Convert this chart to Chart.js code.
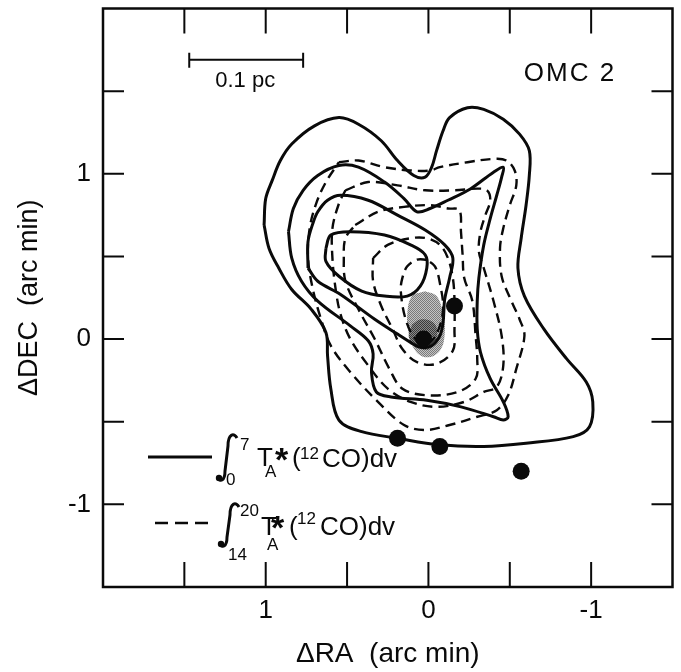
<!DOCTYPE html>
<html>
<head>
<meta charset="utf-8">
<title>OMC 2 - 12CO integrated intensity</title>
<script src="https://cdn.jsdelivr.net/npm/chart.js@4.4.1/dist/chart.umd.min.js"></script>
<style>
  html, body { margin: 0; padding: 0; background: #fff; }
  #wrap { width: 681px; height: 672px; }
</style>
</head>
<body>
<div id="wrap"><canvas id="omcChart" width="681" height="672"></canvas></div>
<script>
// Offsets in arc min: [dRA, dDEC]

// Integrated 12CO, 0-7 km/s (solid contours, outer to inner)
const lowVel1 = [[1.01,0.69],[1.00,0.85],[0.96,0.96],[0.91,1.08],[0.84,1.18],[0.70,1.29],[0.55,1.34],[0.43,1.30],[0.29,1.20],[0.19,1.08],[0.09,0.99],[0.02,0.98],[-0.02,1.04],[-0.05,1.14],[-0.09,1.26],[-0.13,1.34],[-0.24,1.40],[-0.34,1.39],[-0.46,1.33],[-0.56,1.24],[-0.62,1.14],[-0.62,0.99],[-0.60,0.81],[-0.57,0.61],[-0.55,0.43],[-0.59,0.26],[-0.71,0.06],[-0.85,-0.12],[-0.97,-0.26],[-1.01,-0.38],[-0.99,-0.53],[-0.89,-0.59],[-0.60,-0.63],[-0.34,-0.65],[-0.07,-0.64],[0.19,-0.60],[0.41,-0.56],[0.55,-0.49],[0.60,-0.30],[0.62,-0.10],[0.63,0.04],[0.72,0.18],[0.84,0.30],[0.92,0.43],[0.98,0.55],[1.01,0.69]];
const lowVel2 = [[0.86,0.65],[0.83,0.79],[0.77,0.90],[0.68,0.99],[0.55,1.05],[0.43,1.04],[0.27,0.95],[0.15,0.85],[0.07,0.77],[-0.01,0.79],[-0.12,0.84],[-0.26,0.91],[-0.40,1.01],[-0.46,1.04],[-0.45,0.98],[-0.42,0.87],[-0.38,0.73],[-0.34,0.57],[-0.31,0.37],[-0.30,0.23],[-0.30,0.06],[-0.32,-0.08],[-0.38,-0.24],[-0.46,-0.38],[-0.49,-0.47],[-0.46,-0.49],[-0.40,-0.47],[-0.20,-0.41],[0.01,-0.37],[0.23,-0.35],[0.32,-0.32],[0.35,-0.20],[0.34,-0.09],[0.37,-0.01],[0.48,0.08],[0.68,0.23],[0.78,0.35],[0.84,0.49],[0.86,0.65]];
const lowVel3 = [[0.74,0.43],[0.74,0.59],[0.71,0.70],[0.68,0.77],[0.62,0.84],[0.54,0.87],[0.37,0.84],[0.19,0.75],[0.02,0.66],[-0.10,0.57],[-0.15,0.49],[-0.13,0.37],[-0.10,0.24],[-0.09,0.10],[-0.07,0.02],[-0.02,-0.04],[0.05,-0.05],[0.11,-0.02],[0.19,0.03],[0.33,0.12],[0.54,0.27],[0.68,0.35],[0.74,0.43]];
const lowVel4 = [[0.63,0.55],[0.60,0.63],[0.48,0.65],[0.27,0.63],[0.11,0.57],[0.02,0.51],[0.01,0.43],[0.05,0.32],[0.13,0.26],[0.27,0.26],[0.41,0.29],[0.55,0.38],[0.63,0.47],[0.63,0.55]];

// Integrated 12CO, 14-20 km/s (dashed contours, outer to inner)
const highVel1 = [[0.55,1.07],[0.43,1.08],[0.27,1.04],[0.11,1.02],[-0.01,1.02],[-0.07,1.04],[-0.24,1.07],[-0.40,1.09],[-0.48,1.08],[-0.53,1.02],[-0.54,0.93],[-0.50,0.81],[-0.46,0.67],[-0.44,0.55],[-0.45,0.38],[-0.51,0.23],[-0.56,0.12],[-0.59,0.02],[-0.54,-0.18],[-0.49,-0.34],[-0.42,-0.43],[-0.30,-0.47],[-0.13,-0.52],[0.02,-0.55],[0.15,-0.52],[0.31,-0.38],[0.48,-0.20],[0.60,-0.04],[0.66,0.12],[0.71,0.30],[0.74,0.49],[0.73,0.67],[0.69,0.82],[0.63,0.95],[0.55,1.07]];
const highVel2 = [[0.51,0.90],[0.37,0.95],[0.19,0.93],[0.02,0.90],[-0.16,0.90],[-0.30,0.91],[-0.36,0.90],[-0.38,0.84],[-0.35,0.75],[-0.32,0.65],[-0.31,0.53],[-0.34,0.43],[-0.40,0.23],[-0.45,0.02],[-0.46,-0.16],[-0.42,-0.29],[-0.34,-0.32],[-0.22,-0.38],[-0.05,-0.41],[0.11,-0.38],[0.25,-0.30],[0.37,-0.16],[0.48,0.00],[0.54,0.15],[0.57,0.30],[0.59,0.49],[0.59,0.67],[0.55,0.82],[0.51,0.90]];
const highVel3 = [[0.45,0.69],[0.31,0.77],[0.15,0.80],[-0.01,0.81],[-0.12,0.79],[-0.19,0.78],[-0.20,0.65],[-0.21,0.51],[-0.22,0.37],[-0.27,0.23],[-0.29,0.02],[-0.30,-0.12],[-0.29,-0.24],[-0.18,-0.32],[0.01,-0.34],[0.16,-0.30],[0.24,-0.18],[0.33,0.00],[0.43,0.18],[0.51,0.35],[0.52,0.49],[0.51,0.61],[0.45,0.69]];
const highVel4 = [[0.34,0.49],[0.25,0.57],[0.11,0.61],[0.01,0.61],[-0.07,0.57],[-0.12,0.49],[-0.15,0.37],[-0.16,0.24],[-0.16,0.06],[-0.15,-0.07],[-0.05,-0.15],[0.07,-0.14],[0.16,-0.06],[0.22,0.06],[0.29,0.20],[0.34,0.35],[0.34,0.49]];
const highVel5 = [[0.01,0.48],[0.07,0.48],[0.13,0.44],[0.16,0.37],[0.17,0.29],[0.14,0.12],[0.08,0.00],[0.01,-0.03],[-0.05,0.03],[-0.09,0.18],[-0.07,0.34],[-0.04,0.44],[0.01,0.48]];

// Shaded compact source and its darker core
const shadeOuter = [[0.02,0.29],[-0.05,0.26],[-0.09,0.15],[-0.10,0.03],[-0.07,-0.07],[0.01,-0.11],[0.08,-0.07],[0.12,0.03],[0.13,0.15],[0.10,0.26],[0.02,0.29]];
const shadeInner = [[0.10,0.09],[0.04,0.12],[-0.04,0.09],[-0.05,0.00],[-0.01,-0.06],[0.07,-0.05],[0.12,0.01],[0.10,0.09]];

// Point sources
const sourceRA  = [0.03, -0.16, 0.19, -0.07, -0.57];
const sourceDEC = [0.00,  0.20, -0.60, -0.65, -0.80];

// Axes
const raRange = [-1.5, 2];
const decRange = [-1.5, 2];
const tickStep = 0.5;
const labelledTicks = [-1, 0, 1];

// 0.1 pc scale bar (RA from, RA to, DEC)
const scaleBar = [1.47, 0.77, 1.69];

const FONT = '"Liberation Sans", Arial, sans-serif';

const toPts = arr => arr.map(p => ({ x: p[0], y: p[1] }));

function stipple(light, dark) {
  const c = document.createElement('canvas');
  c.width = 2; c.height = 2;
  const g = c.getContext('2d');
  g.fillStyle = light; g.fillRect(0, 0, 2, 2);
  g.fillStyle = dark; g.fillRect(0, 0, 1, 1); g.fillRect(1, 1, 1, 1);
  return g.createPattern(c, 'repeat');
}

function contour(arr, dashed) {
  return {
    data: toPts(arr),
    showLine: true,
    fill: false,
    pointRadius: 0,
    borderColor: '#0a0a0a',
    borderWidth: dashed ? 2.4 : 3,
    borderDash: dashed ? [10, 6] : [],
    tension: 0.35,
    order: 1
  };
}

function blob(arr, color) {
  return {
    data: toPts(arr),
    showLine: true,
    fill: 'shape',
    backgroundColor: color,
    borderWidth: 0,
    borderColor: 'rgba(0,0,0,0)',
    pointRadius: 0,
    tension: 0.4,
    order: 2
  };
}

// Frame, inward ticks, scale bar and the legend
const notes = {
  id: 'notes',
  afterDatasetsDraw(chart) {
    const { ctx, chartArea: a, scales: { x, y } } = chart;
    ctx.save();
    ctx.strokeStyle = '#0a0a0a';
    ctx.fillStyle = '#0a0a0a';
    ctx.lineWidth = 2.5;
    ctx.strokeRect(a.left, a.top, a.right - a.left, a.bottom - a.top);

    ctx.lineWidth = 2;
    for (let v = raRange[0] + tickStep; v < raRange[1] - 1e-6; v += tickStep) {
      const px = x.getPixelForValue(v);
      ctx.beginPath();
      ctx.moveTo(px, a.top); ctx.lineTo(px, a.top + 25);
      ctx.moveTo(px, a.bottom); ctx.lineTo(px, a.bottom - 25);
      ctx.stroke();
    }
    for (let v = decRange[0] + tickStep; v < decRange[1] - 1e-6; v += tickStep) {
      const py = y.getPixelForValue(v);
      ctx.beginPath();
      ctx.moveTo(a.left, py); ctx.lineTo(a.left + 21, py);
      ctx.moveTo(a.right, py); ctx.lineTo(a.right - 21, py);
      ctx.stroke();
    }

    // scale bar
    const bx0 = x.getPixelForValue(scaleBar[0]);
    const bx1 = x.getPixelForValue(scaleBar[1]);
    const by = y.getPixelForValue(scaleBar[2]);
    ctx.beginPath();
    ctx.moveTo(bx0, by); ctx.lineTo(bx1, by);
    ctx.moveTo(bx0, by - 7); ctx.lineTo(bx0, by + 8);
    ctx.moveTo(bx1, by - 7); ctx.lineTo(bx1, by + 8);
    ctx.stroke();

    ctx.textBaseline = 'alphabetic';
    ctx.textAlign = 'center';
    ctx.font = '22px ' + FONT;
    ctx.fillText('0.1 pc', (bx0 + bx1) / 2 - 1, by + 27);
    ctx.font = '26px ' + FONT;
    ctx.letterSpacing = '2px';
    ctx.fillText('OMC 2', 570, 81);
    ctx.letterSpacing = '0px';

    // legend
    ctx.textAlign = 'left';
    ctx.lineWidth = 3;
    ctx.beginPath(); ctx.moveTo(148, 457); ctx.lineTo(212, 457); ctx.stroke();
    ctx.lineWidth = 2.4;
    ctx.setLineDash([13, 7]);
    ctx.beginPath(); ctx.moveTo(155, 523); ctx.lineTo(211, 523); ctx.stroke();
    ctx.setLineDash([]);

    drawIntegral(ctx, 216, 434, 481);
    drawIntegral(ctx, 218, 503, 547);

    const big = '26px ' + FONT, small = '17px ' + FONT, star = 'bold 34px ' + FONT;
    const put = (t, f, px, py) => { ctx.font = f; ctx.fillText(t, px, py); };
    put('7', small, 240, 450);
    put('0', small, 226, 485);
    put('T', big, 257, 466);
    put('A', small, 265, 477);
    put('*', star, 275, 471);
    put('(', big, 292, 466);
    put('12', small, 300, 459);
    put('CO)dv', big, 322, 467);

    put('20', small, 240, 516);
    put('14', small, 228, 560);
    put('T', big, 261, 535);
    put('*', star, 271, 539);
    put('A', small, 267, 550);
    put('(', big, 289, 535);
    put('12', small, 297, 524);
    put('CO)dv', big, 320, 535);
    ctx.restore();
  }
};

function drawIntegral(ctx, x0, yTop, yBot) {
  ctx.lineWidth = 3;
  ctx.beginPath();
  ctx.moveTo(x0 + 21, yTop + 4);
  ctx.bezierCurveTo(x0 + 18, yTop - 2, x0 + 12, yTop, x0 + 12, yTop + 12);
  ctx.lineTo(x0 + 9, yBot - 10);
  ctx.bezierCurveTo(x0 + 9, yBot, x0 + 4, yBot + 1, x0 + 2, yBot - 3);
  ctx.stroke();
  ctx.beginPath();
  ctx.arc(x0 + 3, yBot - 3, 3.2, 0, Math.PI * 2);
  ctx.fill();
}

const gray = stipple('#c4c4c4', '#7a7a7a');
const darkGray = stipple('#8a8a8a', '#3a3a3a');

// keep the plot frame fixed: no extra room for half-height edge labels
function pinX(s) { s.height = 85; s.paddingLeft = 0; s.paddingRight = 0; }
function pinY(s) { s.width = 103; s.paddingTop = 0; s.paddingBottom = 0; }

new Chart(document.getElementById('omcChart'), {
  type: 'scatter',
  data: {
    datasets: [
      {
        data: sourceRA.map((v, i) => ({ x: v, y: sourceDEC[i] })),
        pointRadius: 8.5,
        pointBackgroundColor: '#0a0a0a',
        pointBorderWidth: 0,
        showLine: false,
        order: 0
      },
      contour(lowVel1, false),
      contour(lowVel2, false),
      contour(lowVel3, false),
      contour(lowVel4, false),
      contour(highVel1, true),
      contour(highVel2, true),
      contour(highVel3, true),
      contour(highVel4, true),
      contour(highVel5, true),
      blob(shadeInner, darkGray),
      blob(shadeOuter, gray)
    ]
  },
  options: {
    responsive: false,
    animation: false,
    events: [],
    layout: { padding: { top: 8, right: 4, left: 0, bottom: 0 } },
    plugins: {
      legend: { display: false },
      tooltip: { enabled: false }
    },
    scales: {
      x: {
        type: 'linear',
        reverse: true,
        min: raRange[0],
        max: raRange[1],
        grid: { display: false, drawTicks: false },
        border: { display: false },
        afterFit: pinX,
        ticks: {
          stepSize: tickStep,
          autoSkip: false,
          maxRotation: 0,
          padding: 8,
          color: '#0a0a0a',
          font: { family: FONT, size: 26 },
          callback: v => labelledTicks.includes(v) ? String(v) : ''
        },
        title: {
          display: true,
          text: '\u0394RA  (arc min)',
          color: '#0a0a0a',
          font: { family: FONT, size: 28 },
          padding: { top: 0, bottom: 1 }
        }
      },
      y: {
        type: 'linear',
        min: decRange[0],
        max: decRange[1],
        grid: { display: false, drawTicks: false },
        border: { display: false },
        afterFit: pinY,
        ticks: {
          stepSize: tickStep,
          autoSkip: false,
          padding: 12,
          color: '#0a0a0a',
          font: { family: FONT, size: 26 },
          callback: v => labelledTicks.includes(v) ? String(v) : ''
        },
        title: {
          display: true,
          text: '\u0394DEC  (arc min)',
          color: '#0a0a0a',
          font: { family: FONT, size: 27 },
          padding: { top: 13, bottom: 0 }
        }
      }
    }
  },
  plugins: [notes]
});
</script>
</body>
</html>
